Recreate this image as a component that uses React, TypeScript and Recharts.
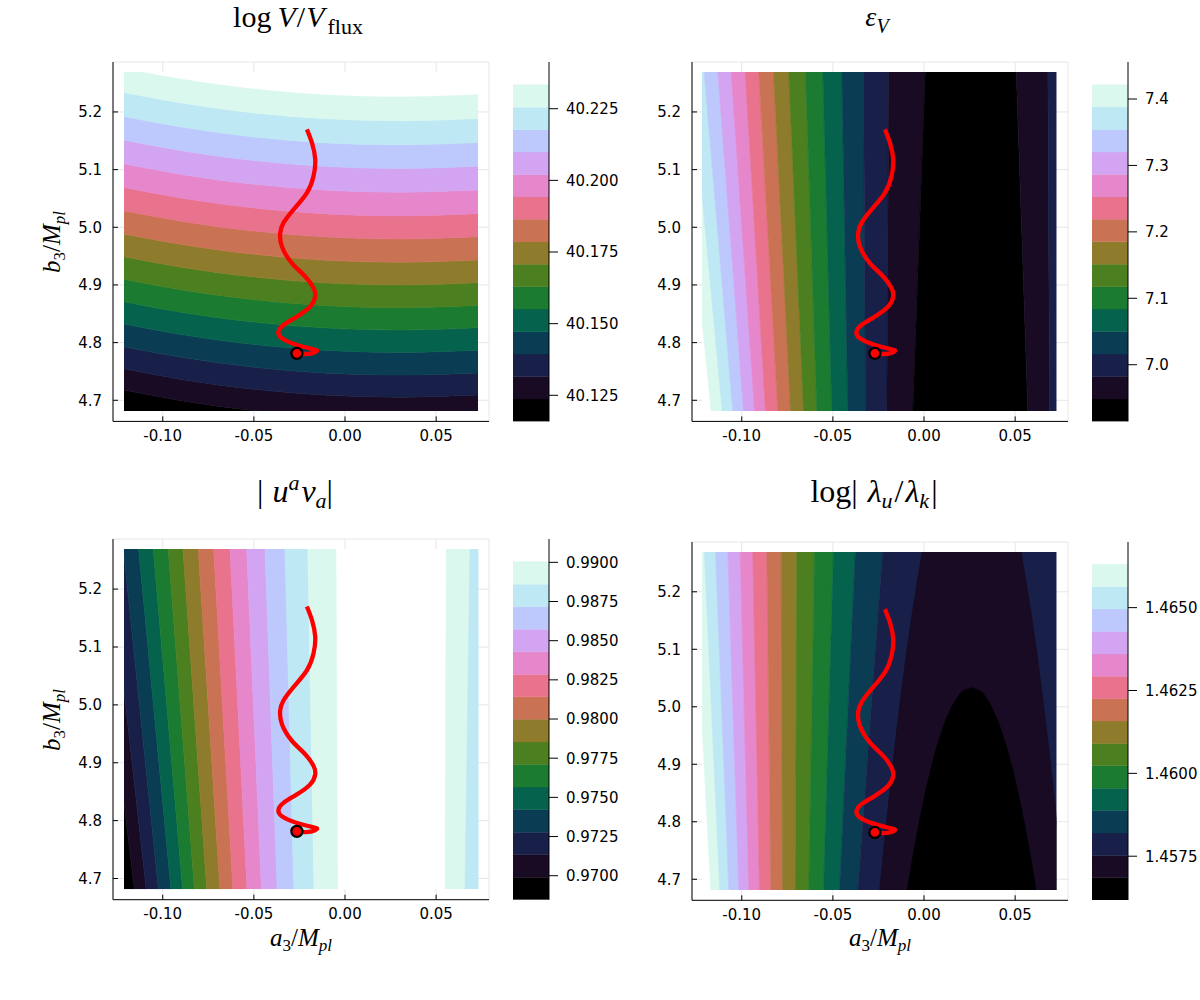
import React from 'react';
import { ComposedChart, Area, Line, Scatter, XAxis, YAxis, CartesianGrid } from 'recharts';

// ---------- palette (low -> high) ----------
const PALETTE = ['#000000', '#180b23', '#182049', '#0a3d53', '#05624c', '#1b7b31', '#4b7f1f', '#8e7b2b', '#c97354', '#e9728c', '#e686cb', '#d3a4f2', '#bdc9fc', '#bde8f4', '#dbf8ef'];
const WHITE = '#ffffff';
const colorOf = (i: number) => (i < 0 ? WHITE : PALETTE[i]);

// ---------- axes ----------
const FRAME_X = [-0.1273, 0.079];
const FRAME_Y = [4.6634, 5.2866];
const HEAT_X = [-0.1214, 0.0731];
const HEAT_Y = [4.681, 5.269];
const X_TICKS = [-0.1, -0.05, 0, 0.05];
const Y_TICKS = [4.7, 4.8, 4.9, 5.0, 5.1, 5.2];

// ---------- trajectory ----------
const TRAJ_X = [-0.02104, -0.0183, -0.01648, -0.01742, -0.02104, -0.02841, -0.0339, -0.03571, -0.03478, -0.02929, -0.02198, -0.01742, -0.01648, -0.01923, -0.02654, -0.0339, -0.03665, -0.03478, -0.02654, -0.01742, -0.01555, -0.0183, -0.02291, -0.02621];
const TRAJ_Y = [5.1696, 5.1464, 5.1174, 5.0883, 5.0595, 5.0304, 5.0073, 4.9899, 4.9666, 4.9377, 4.9144, 4.8943, 4.8797, 4.8623, 4.8449, 4.8304, 4.8188, 4.8073, 4.7957, 4.7882, 4.7852, 4.7812, 4.78, 4.7812];
const START_X = [-0.02654];
const START_Y = [4.7812];

// ---------- top-left: log V / V_flux (curved horizontal contours) ----------
const TL_SAMPLE_X = [-0.1214, -0.09, -0.05, -0.01, 0.03, 0.0731];
const TL_DROP = [0, 0.0183, 0.0354, 0.0457, 0.0491, 0.0452];
const TL_LEVELS_LEFT = [4.7174, 4.7543, 4.7925, 4.8319, 4.8707, 4.9095, 4.9488, 4.9882, 5.0286, 5.0686, 5.1097, 5.1509, 5.1918, 5.2335, 5.2759];
const TL_BANDS = [0, 1, 2, 3, 4, 5, 6, 7, 8, 9, 10, 11, 12, 13, 14, -1];

// ---------- straight near-vertical contours (bottom edge / top edge) ----------
const EDGE_Y = [4.681, 5.269];
const TR_BOTTOM = [-0.11636, -0.11032, -0.1045, -0.09863, -0.09259, -0.08655, -0.0798, -0.07283, -0.0657, -0.0584, -0.05016, -0.04138, -0.03167, -0.01998, -0.00571, 0.05741, 0.06932];
const TR_TOP = [-0.13529, -0.12761, -0.1202, -0.11273, -0.10538, -0.09769, -0.09023, -0.08216, -0.07377, -0.0646, -0.0551, -0.04468, -0.03277, -0.01888, 0.0011, 0.05104, 0.06839];
const TR_BANDS = [-1, 14, 13, 12, 11, 10, 9, 8, 7, 6, 5, 4, 3, 2, 1, 0, 1, 2];

const BL_BOTTOM = [-0.1157, -0.10922, -0.10252, -0.09566, -0.08924, -0.08277, -0.07602, -0.06877, -0.06164, -0.05395, -0.04599, -0.03738, -0.02827, -0.01718, -0.00384, 0.05472, 0.0657];
const BL_TOP = [-0.1382, -0.13008, -0.12173, -0.11339, -0.10538, -0.09715, -0.08908, -0.08068, -0.07223, -0.06328, -0.05412, -0.04407, -0.0331, -0.02058, -0.00472, 0.05543, 0.06844];
const BL_BANDS = [0, 1, 2, 3, 4, 5, 6, 7, 8, 9, 10, 11, 12, 13, 14, -1, 14, 13];

const BR_BOTTOM = [-0.11663, -0.11164, -0.1067, -0.10121, -0.09572, -0.08985, -0.08364, -0.07722, -0.07009, -0.06279, -0.05472, -0.04594, -0.03589];
const BR_TOP = [-0.12635, -0.12014, -0.114, -0.10725, -0.10044, -0.09352, -0.08584, -0.07794, -0.06937, -0.05966, -0.04923, -0.03727, -0.02234];
const BR_BANDS = [-1, 14, 13, 12, 11, 10, 9, 8, 7, 6, 5, 4, 3, 2];
const BR_DP_Y = [4.681, 4.75, 4.85, 4.95, 5.05, 5.15, 5.269];
const BR_DP_LEFT = [-0.02394, -0.02179, -0.01849, -0.01493, -0.01103, -0.00668, -0.00061];
const BR_DP_RIGHT = [0.07706, 0.07491, 0.07161, 0.06805, 0.06415, 0.0598, 0.05373];
const BR_BLACK_Y = [4.681, 4.75, 4.82, 4.89, 4.95, 4.99, 5.015, 5.028, 5.033];
const BR_BLACK_LEFT = [-0.00879, -0.00514, -0.00094, 0.00403, 0.00939, 0.0142, 0.01857, 0.02235, 0.02656];
const BR_BLACK_RIGHT = [0.06191, 0.05826, 0.05406, 0.04909, 0.04373, 0.03892, 0.03455, 0.03077, 0.02656];

// ---------- colorbars ----------
const CB_TL_LEVELS = [40.1159, 40.1237, 40.1316, 40.1394, 40.1472, 40.1551, 40.1629, 40.1707, 40.1785, 40.1864, 40.1942, 40.202, 40.2099, 40.2177, 40.2255, 40.2334];
const CB_TL_DOMAIN = [40.1159, 40.2413];
const CB_TL_TICKS = [40.125, 40.15, 40.175, 40.2, 40.225];
const CB_TR_LEVELS = [6.9147, 6.9485, 6.9823, 7.0161, 7.0499, 7.0837, 7.1174, 7.1512, 7.185, 7.2188, 7.2526, 7.2864, 7.3202, 7.354, 7.3878, 7.4216];
const CB_TR_DOMAIN = [6.9147, 7.4557];
const CB_TR_TICKS = [7.0, 7.1, 7.2, 7.3, 7.4];
const CB_BL_LEVELS = [0.96847, 0.96991, 0.97135, 0.97278, 0.97422, 0.97566, 0.9771, 0.97854, 0.97998, 0.98142, 0.98285, 0.98429, 0.98573, 0.98717, 0.98861, 0.99005];
const CB_BL_DOMAIN = [0.96847, 0.99149];
const CB_BL_TICKS = [0.97, 0.9725, 0.975, 0.9775, 0.98, 0.9825, 0.985, 0.9875, 0.99];
const CB_BR_LEVELS = [1.45617, 1.45685, 1.45752, 1.4582, 1.45888, 1.45955, 1.46023, 1.4609, 1.46158, 1.46225, 1.46293, 1.4636, 1.46428, 1.46496, 1.46563, 1.46631];
const CB_BR_DOMAIN = [1.45617, 1.46698];
const CB_BR_TICKS = [1.4575, 1.46, 1.4625, 1.465];

// ---------- layout ----------
type G = { L: number; T: number; W: number; H: number; cbL: number };
const PANEL_TL: G = { L: 113, T: 62.3, W: 376, H: 359.4, cbL: 513.3 };
const PANEL_TR: G = { L: 691.7, T: 62.3, W: 376, H: 359.4, cbL: 1092.3 };
const PANEL_BL: G = { L: 113.3, T: 539.3, W: 376, H: 360.7, cbL: 513.3 };
const PANEL_BR: G = { L: 691.7, T: 541.7, W: 376, H: 358.3, cbL: 1092.3 };

const TICK = { fill: '#000', fontSize: 15, fontFamily: "'DejaVu Sans', sans-serif" };
const Y_AXIS_W = 70;

const TRAJ = TRAJ_X.map((x, i) => ({ x, y: TRAJ_Y[i] }));
const START = START_X.map((x, i) => ({ x, y: START_Y[i] }));

function heatRect(g: G) {
  const fx = FRAME_X[1] - FRAME_X[0];
  const fy = FRAME_Y[1] - FRAME_Y[0];
  return {
    left: g.L + ((HEAT_X[0] - FRAME_X[0]) / fx) * g.W,
    width: ((HEAT_X[1] - HEAT_X[0]) / fx) * g.W,
    top: g.T + ((FRAME_Y[1] - HEAT_Y[1]) / fy) * g.H,
    height: ((HEAT_Y[1] - HEAT_Y[0]) / fy) * g.H,
  };
}

function Frame({ g }: { g: G }) {
  return (
    <div style={{ position: 'absolute', left: g.L - Y_AXIS_W, top: g.T - 5 }}>
      <ComposedChart width={g.W + Y_AXIS_W + 6} height={g.H + 5 + 40} margin={{ top: 5, right: 6, bottom: 0, left: 0 }} data={START}>
        <CartesianGrid stroke="#e6e6e6" strokeWidth={1} />
        <XAxis type="number" dataKey="x" domain={FRAME_X} allowDataOverflow ticks={X_TICKS} interval={0}
          tickFormatter={(v: number) => v.toFixed(2)} height={40} tickSize={-5} tickMargin={14}
          axisLine={{ stroke: '#000', strokeWidth: 1 }} tickLine={{ stroke: '#000' }} tick={TICK} />
        <YAxis type="number" dataKey="y" domain={FRAME_Y} allowDataOverflow ticks={Y_TICKS} interval={0}
          tickFormatter={(v: number) => v.toFixed(1)} width={Y_AXIS_W} tickSize={-5} tickMargin={16}
          axisLine={{ stroke: '#000', strokeWidth: 1 }} tickLine={{ stroke: '#000' }} tick={TICK} />
      </ComposedChart>
    </div>
  );
}

function markerShape(props: any) {
  if (props == null || props.cx == null) return <g />;
  return <circle cx={props.cx} cy={props.cy} r={5.5} fill="#ff0000" stroke="#000" strokeWidth={2.3} />;
}

function bandAreas(bands: number[], curve: any) {
  return bands.map((ci, i) => {
    const c = colorOf(ci);
    return (
      <Area key={'b' + i} type={curve}
        dataKey={(d: any) => (d && d.b ? [d.b[i], d.b[i + 1]] : null)}
        fill={c} fillOpacity={1}
        stroke={c} strokeWidth={0.6} dot={false} activeDot={false} isAnimationActive={false} />
    );
  });
}

function Heat({ g, layout, rows, children }: { g: G; layout: 'horizontal' | 'vertical'; rows: any[]; children: any }) {
  const r = heatRect(g);
  const vertical = layout === 'vertical';
  return (
    <div style={{ position: 'absolute', left: r.left, top: r.top }}>
      <ComposedChart layout={layout} width={r.width} height={r.height} margin={{ top: 0, right: 0, bottom: 0, left: 0 }} data={rows}>
        <XAxis type="number" dataKey="x" domain={HEAT_X} allowDataOverflow hide />
        <YAxis type="number" dataKey="y" domain={HEAT_Y} allowDataOverflow hide reversed={vertical} />
        {children}
        <Line data={TRAJ} dataKey={vertical ? 'x' : 'y'} type="natural" stroke="#ff0000" strokeWidth={4.3}
          dot={false} activeDot={false} isAnimationActive={false} />
        <Scatter data={START} dataKey="y" shape={markerShape} isAnimationActive={false} />
      </ComposedChart>
    </div>
  );
}

function Colorbar({ g, levels, domain, ticks, digits }: { g: G; levels: number[]; domain: number[]; ticks: number[]; digits: number }) {
  const rows = [{ x: 0 }, { x: 1 }];
  return (
    <div style={{ position: 'absolute', left: g.cbL, top: g.T }}>
      <ComposedChart width={36 + 90} height={g.H} margin={{ top: 0, right: 0, bottom: 0, left: 0 }} data={rows}>
        <XAxis type="number" dataKey="x" domain={[0, 1]} allowDataOverflow hide />
        <YAxis type="number" orientation="right" domain={domain} allowDataOverflow ticks={ticks} interval={0} width={90}
          tickFormatter={(v: number) => v.toFixed(digits)} tickSize={9} tickMargin={8}
          axisLine={{ stroke: '#000', strokeWidth: 1 }} tickLine={{ stroke: '#000' }} tick={TICK} />
        {PALETTE.map((c, i) => (
          <Area key={i} type="linear" dataKey={() => [levels[i], levels[i + 1]]} fill={c} fillOpacity={1}
            stroke={c} strokeWidth={0.4} dot={false} activeDot={false} isAnimationActive={false} />
        ))}
      </ComposedChart>
    </div>
  );
}

const TL_ROWS = TL_SAMPLE_X.map((x, j) => ({ x, b: [4.5, ...TL_LEVELS_LEFT.map((v) => v - TL_DROP[j]), 5.4] }));
const edgeRows = (bottom: number[], top: number[]) =>
  EDGE_Y.map((y, j) => ({ y, b: [-0.2, ...(j === 0 ? bottom : top), 0.15] }));
const TR_ROWS = edgeRows(TR_BOTTOM, TR_TOP);
const BL_ROWS = edgeRows(BL_BOTTOM, BL_TOP);
const BR_ROWS = edgeRows(BR_BOTTOM, BR_TOP);
const BR_DP = BR_DP_Y.map((y, i) => ({ y, v: [BR_DP_LEFT[i], BR_DP_RIGHT[i]] }));
const BR_BLACK = BR_BLACK_Y.map((y, i) => ({ y, v: [BR_BLACK_LEFT[i], BR_BLACK_RIGHT[i]] }));

const SERIF = "'Liberation Serif', 'DejaVu Serif', serif";

function Texts() {
  return (
    <svg width={1200} height={1000} style={{ position: 'absolute', left: 0, top: 0, pointerEvents: 'none' }}>
      <g fontFamily={SERIF} fill="#000">
        <text x={298} y={27} textAnchor="middle" fontSize={30}>
          <tspan>log{'\u2009'}</tspan><tspan fontStyle="italic">V</tspan><tspan dx={1}>/</tspan><tspan fontStyle="italic" dx={1}>V</tspan>
          <tspan fontSize={22} dy={7} dx={3}>flux</tspan>
        </text>
        <text x={877} y={25.5} textAnchor="middle" fontSize={28}>
          <tspan fontStyle="italic">ε</tspan><tspan fontStyle="italic" fontSize={20} dy={7}>V</tspan>
        </text>
        <text x={295} y={501.7} textAnchor="middle" fontSize={32}>
          <tspan>|</tspan><tspan fontStyle="italic" dx={9}>u</tspan><tspan fontStyle="italic" fontSize={22} dy={-12}>a</tspan>
          <tspan fontStyle="italic" dy={12} dx={2}>v</tspan><tspan fontStyle="italic" fontSize={22} dy={6}>a</tspan><tspan dy={-6}>|</tspan>
        </text>
        <text x={874} y={501.7} textAnchor="middle" fontSize={32}>
          <tspan>log|</tspan><tspan fontStyle="italic" dx={10}>λ</tspan><tspan fontStyle="italic" fontSize={22} dy={6}>u</tspan>
          <tspan dy={-6} dx={2}>/</tspan><tspan fontStyle="italic" dx={2}>λ</tspan><tspan fontStyle="italic" fontSize={22} dy={6}>k</tspan><tspan dy={-6} dx={2}>|</tspan>
        </text>
        {[242, 720].map((cy) => (
          <text key={cy} x={60} y={cy} textAnchor="middle" fontSize={25} transform={`rotate(-90 60 ${cy})`}>
            <tspan fontStyle="italic">b</tspan><tspan fontSize={17} dy={5}>3</tspan><tspan dy={-5}>/</tspan>
            <tspan fontStyle="italic">M</tspan><tspan fontStyle="italic" fontSize={17} dy={5}>pl</tspan>
          </text>
        ))}
        {[301, 880].map((cx) => (
          <text key={cx} x={cx} y={946} textAnchor="middle" fontSize={25}>
            <tspan fontStyle="italic">a</tspan><tspan fontSize={17} dy={5}>3</tspan><tspan dy={-5}>/</tspan>
            <tspan fontStyle="italic">M</tspan><tspan fontStyle="italic" fontSize={17} dy={5}>pl</tspan>
          </text>
        ))}
      </g>
    </svg>
  );
}

export default function App() {
  return (
    <div style={{ position: 'absolute', left: 0, top: 0, width: 1200, height: 1000, background: '#fff', overflow: 'hidden' }}>
      <Frame g={PANEL_TL} />
      <Frame g={PANEL_TR} />
      <Frame g={PANEL_BL} />
      <Frame g={PANEL_BR} />

      <Heat g={PANEL_TL} layout="horizontal" rows={TL_ROWS}>{bandAreas(TL_BANDS, 'monotone')}</Heat>
      <Heat g={PANEL_TR} layout="vertical" rows={TR_ROWS}>{bandAreas(TR_BANDS, 'linear')}</Heat>
      <Heat g={PANEL_BL} layout="vertical" rows={BL_ROWS}>{bandAreas(BL_BANDS, 'linear')}</Heat>
      <Heat g={PANEL_BR} layout="vertical" rows={BR_ROWS}>
        {bandAreas(BR_BANDS, 'linear')}
        <Area data={BR_DP} dataKey="v" type="monotone" fill={PALETTE[1]} fillOpacity={1} stroke={PALETTE[1]} strokeWidth={0.6}
          dot={false} activeDot={false} isAnimationActive={false} />
        <Area data={BR_BLACK} dataKey="v" type="monotone" fill={PALETTE[0]} fillOpacity={1} stroke={PALETTE[0]} strokeWidth={0.6}
          dot={false} activeDot={false} isAnimationActive={false} />
      </Heat>

      <Colorbar g={PANEL_TL} levels={CB_TL_LEVELS} domain={CB_TL_DOMAIN} ticks={CB_TL_TICKS} digits={3} />
      <Colorbar g={PANEL_TR} levels={CB_TR_LEVELS} domain={CB_TR_DOMAIN} ticks={CB_TR_TICKS} digits={1} />
      <Colorbar g={PANEL_BL} levels={CB_BL_LEVELS} domain={CB_BL_DOMAIN} ticks={CB_BL_TICKS} digits={4} />
      <Colorbar g={PANEL_BR} levels={CB_BR_LEVELS} domain={CB_BR_DOMAIN} ticks={CB_BR_TICKS} digits={4} />

      <Texts />
    </div>
  );
}
